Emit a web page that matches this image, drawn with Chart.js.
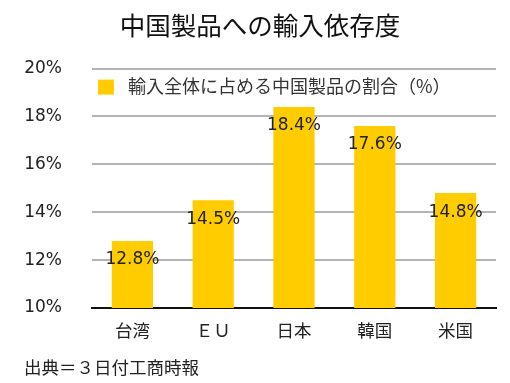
<!DOCTYPE html>
<html><head><meta charset="utf-8">
<script src="https://cdn.jsdelivr.net/npm/chart.js@4/dist/chart.umd.min.js"></script>
<style>html,body{margin:0;padding:0;background:#fff}#wrap{width:510px;height:383px}</style>
</head><body><div id="wrap"><canvas id="c" width="510" height="383"></canvas></div>
<script>
const categories = ['台湾', 'ＥＵ', '日本', '韓国', '米国'];
const shares = [12.8, 14.5, 18.4, 17.6, 14.8];
const yTicks = [10, 12, 14, 16, 18, 20];
const seriesName = '輸入全体に占める中国製品の割合（%）';
const titleText = '中国製品への輸入依存度';
const sourceText = '出典＝３日付工商時報';
const FONT = "'Noto Sans CJK JP', 'Noto Sans', sans-serif";
const NUMFONT = "'DejaVu Sans', 'Noto Sans', sans-serif";
const BAR_COLOR = '#ffcc00';

const labelPlugin = {
  id: 'vals',
  afterDatasetsDraw(chart) {
    const ctx = chart.ctx;
    const meta = chart.getDatasetMeta(0);
    ctx.save();
    ctx.font = '17px ' + NUMFONT;
    ctx.fillStyle = '#222';
    ctx.textAlign = 'center';
    ctx.textBaseline = 'middle';
    meta.data.forEach((bar, i) => {
      ctx.fillText(shares[i].toFixed(1) + '%', bar.x, bar.y + 19);
    });
    // legend inside chart area
    const a = chart.chartArea;
    ctx.fillStyle = chart.data.datasets[0].backgroundColor;
    ctx.fillRect(a.left + 6, a.top + 11, 16, 15);
    ctx.fillStyle = '#333';
    ctx.textAlign = 'left';
    ctx.font = '18px ' + FONT;
    ctx.fillText(chart.data.datasets[0].label, a.left + 36, a.top + 18);
    ctx.restore();
  }
};

new Chart(document.getElementById('c'), {
  type: 'bar',
  data: {
    labels: categories,
    datasets: [{
      label: seriesName,
      data: shares,
      backgroundColor: BAR_COLOR,
      borderWidth: 0,
      barPercentage: 0.51,
      categoryPercentage: 1.0
    }]
  },
  options: {
    responsive: false,
    animation: false,
    layout: { padding: { left: 24, right: 14, top: 10, bottom: 5 } },
    plugins: {
      title: {
        display: true, text: titleText, color: '#111',
        font: { family: FONT, size: 25.5, weight: 'normal' },
        padding: { top: 0, bottom: 28 }
      },
      subtitle: {
        display: true, text: sourceText, position: 'bottom', align: 'start', color: '#222',
        font: { family: FONT, size: 17.5, weight: 'normal' },
        padding: { top: 4, bottom: 0 }
      },
      legend: { display: false },
      tooltip: { enabled: false }
    },
    scales: {
      x: {
        grid: { display: false, drawTicks: false },
        border: { display: true, color: '#111', width: 2 },
        ticks: { color: '#222', font: { family: FONT, size: 17.5 }, padding: 12 }
      },
      y: {
        min: yTicks[0], max: yTicks[yTicks.length - 1],
        afterBuildTicks: s => { s.ticks = yTicks.map(v => ({ value: v })); },
        afterFit: s => { s.width = 68; },
        grid: { color: '#b4b4b4', lineWidth: 2, drawTicks: false },
        border: { display: false },
        ticks: { color: '#222', font: { family: NUMFONT, size: 17 }, padding: 30,
          callback: v => v + '%' }
      }
    }
  },
  plugins: [labelPlugin]
});
</script></body></html>
